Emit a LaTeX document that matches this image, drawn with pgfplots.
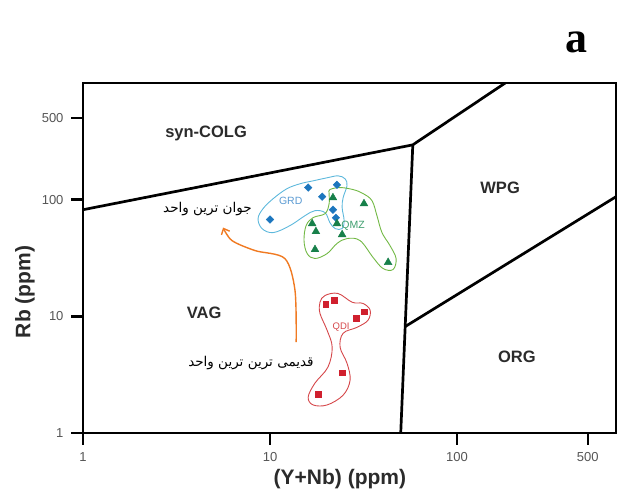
\documentclass[border=0pt]{standalone}
\usepackage{pgfplots}
\pgfplotsset{compat=1.18}
\usetikzlibrary{arrows.meta}
\usepackage{fontspec}
\setmainfont{Liberation Sans}
\newfontfamily\arabicfont[Script=Arabic]{DejaVu Sans}
\newfontfamily\serifbold{Liberation Serif}
\TeXXeTstate=1
\definecolor{grdmark}{HTML}{1C76BE}
\definecolor{grdline}{HTML}{5DB8DC}
\definecolor{grdtext}{HTML}{5A9AD2}
\definecolor{qmzmark}{HTML}{17804A}
\definecolor{qmzline}{HTML}{72B844}
\definecolor{qmztext}{HTML}{3E9E6E}
\definecolor{qdimark}{HTML}{D0202E}
\definecolor{qdiline}{HTML}{D5474A}
\definecolor{arrowor}{HTML}{F07A22}
\definecolor{ticktext}{HTML}{555555}
\definecolor{labeltext}{HTML}{2B2B2B}
\begin{document}
\begin{tikzpicture}
\useasboundingbox (-83pt,-59pt) rectangle (538pt,433pt);
\begin{axis}[
  at={(0,0)}, anchor=south west,
  scale only axis, width=533pt, height=350pt,
  xmode=log, ymode=log,
  xmin=1, xmax=708, ymin=1, ymax=1000,
  xtick={1,10,100,500}, xticklabels={1,10,100,500},
  ytick={1,10,100,500}, yticklabels={1,10,100,500},
  xminorticks=false, yminorticks=false,
  tick pos=left, tick align=outside, major tick length=12pt,
  tick style={black, line width=2.4pt},
  axis line style={line width=2.4pt},
  ticklabel style={font=\fontsize{13}{15}\selectfont, text=ticktext},
  xticklabel style={yshift=-4pt},
  yticklabel style={xshift=-4pt},
  xlabel={\bfseries (Y+Nb) (ppm)},
  ylabel={\bfseries Rb (ppm)},
  label style={font=\fontsize{21}{24}\selectfont, text=labeltext},
  xlabel style={at={(axis description cs:0.482,-0.132)}, anchor=center},
  ylabel style={at={(axis description cs:-0.109,0.403)}, anchor=center},
  clip=true,
]
% field boundaries
\addplot[black, line width=2.7pt, line join=round] coordinates {(1,82) (58,295) (181,1000)};
\addplot[black, line width=2.7pt] coordinates {(58,295) (50,1)};
\addplot[black, line width=2.7pt] coordinates {(53,8.2) (708,106)};

% envelopes of the three units
\draw[grdline, line width=0.9pt] plot[smooth cycle, tension=0.6] coordinates {
  (axis cs:8.63,68.8) (axis cs:9.06,56.5) (axis cs:10.4,52.2) (axis cs:12.8,60.0)
  (axis cs:15.4,73.0) (axis cs:17.4,80.5) (axis cs:19.7,77.4) (axis cs:20.9,63.6)
  (axis cs:22.3,56.5) (axis cs:24.3,56.5) (axis cs:24.9,66.2) (axis cs:24.3,85.5)
  (axis cs:24.6,104) (axis cs:25.8,132) (axis cs:25.2,151) (axis cs:23.1,160)
  (axis cs:20.2,154) (axis cs:17.0,145) (axis cs:14.5,137) (axis cs:12.3,124)
  (axis cs:10.4,102) (axis cs:9.18,83.8)};
\draw[qmzline, line width=0.9pt] plot[smooth cycle, tension=0.6] coordinates {
  (axis cs:20.9,122) (axis cs:23.7,127) (axis cs:27.8,122) (axis cs:31.4,113)
  (axis cs:35.1,98.0) (axis cs:37.3,73.0) (axis cs:39.7,52.2) (axis cs:43.8,40.4)
  (axis cs:47.2,31.3) (axis cs:45.5,25.2) (axis cs:40.2,25.7) (axis cs:35.6,31.9)
  (axis cs:30.3,44.6) (axis cs:25.8,46.4) (axis cs:22.8,42.1) (axis cs:20.2,34.5)
  (axis cs:17.4,31.3) (axis cs:15.8,34.5) (axis cs:15.2,44.6) (axis cs:15.6,60.0)
  (axis cs:17.0,70.2) (axis cs:19.7,75.9) (axis cs:20.7,92.4) (axis cs:20.7,113)};
\draw[qdiline, line width=0.9pt] plot[smooth cycle, tension=0.6] coordinates {
  (axis cs:19.7,15.1) (axis cs:23.1,15.7) (axis cs:27.5,13.2) (axis cs:31.4,12.9)
  (axis cs:34.3,11.3) (axis cs:33.4,9.25) (axis cs:29.2,8.05) (axis cs:24.6,7.16)
  (axis cs:23.7,5.43) (axis cs:25.8,3.97) (axis cs:26.8,2.84) (axis cs:24.6,2.11)
  (axis cs:20.2,1.74) (axis cs:17.0,1.74) (axis cs:16.0,2.03) (axis cs:17.4,2.68)
  (axis cs:20.4,3.67) (axis cs:21.5,5.43) (axis cs:20.2,7.59) (axis cs:18.5,10.6)
  (axis cs:18.5,13.2)};

% samples
\addplot[only marks, mark=square*, mark size=2.7pt, mark options={rotate=45, fill=grdmark, draw=grdmark}]
  coordinates {(10.0,67.5) (16.0,127) (19.0,106) (22.8,134) (21.7,82) (22.5,70)};
\addplot[only marks, mark=triangle*, mark size=4.5pt, mark options={fill=qmzmark, draw=qmzmark}]
  coordinates {(21.7,104) (31.8,92.4) (16.8,62.3) (17.6,53.3) (22.8,62.3) (24.3,50.2) (17.4,37.4) (42.8,29.0)};
\addplot[only marks, mark=square*, mark size=2.8pt, mark options={fill=qdimark, draw=qdimark}]
  coordinates {(19.9,12.7) (22.0,13.7) (28.8,9.6) (31.8,11.0) (24.3,3.3) (18.1,2.15)};

% age trend arrow
\addplot[arrowor, line width=1.4pt, smooth, -{Straight Barb[length=5pt,width=9pt]}]
  coordinates {(13.8,6.0) (13.6,16.7) (12.0,31.3) (8.32,36.6) (6.26,44.6) (5.61,57.7)};

% field names
\node[font=\bfseries\fontsize{16.5}{18}\selectfont, text=labeltext] at (axis cs:4.55,367) {syn-COLG};
\node[font=\bfseries\fontsize{16.5}{18}\selectfont, text=labeltext] at (axis cs:170,127) {WPG};
\node[font=\bfseries\fontsize{16.5}{18}\selectfont, text=labeltext] at (axis cs:4.44,10.8) {VAG};
\node[font=\bfseries\fontsize{16.5}{18}\selectfont, text=labeltext] at (axis cs:209,4.46) {ORG};

% unit names
\node[font=\fontsize{10.5}{12}\selectfont, text=grdtext] at (axis cs:12.9,98) {GRD};
\node[font=\fontsize{10.5}{12}\selectfont, text=qmztext] at (axis cs:27.8,60) {QMZ};
\node[font=\fontsize{9.5}{11}\selectfont, text=qdiline] at (axis cs:24.0,8.05) {QDI};

% youngest / oldest unit
\node[font=\arabicfont\fontsize{13.5}{15}\selectfont] at (axis cs:4.63,83.8) {\beginR جوان ترین واحد\endR};
\node[font=\arabicfont\fontsize{13.5}{15}\selectfont] at (axis cs:7.91,3.97) {\beginR قدیمی ترین ترین واحد\endR};
\end{axis}
\node[font=\serifbold\bfseries\fontsize{44}{48}\selectfont] at (493pt,391pt) {a};
\end{tikzpicture}
\end{document}
